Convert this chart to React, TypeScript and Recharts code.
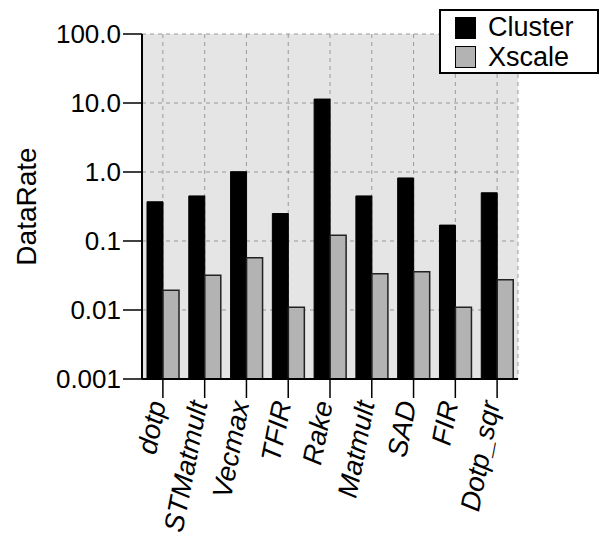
import React from 'react';
import { BarChart, Bar, XAxis, YAxis, CartesianGrid, Legend } from 'recharts';

const categories = ['dotp', 'STMatmult', 'Vecmax', 'TFIR', 'Rake', 'Matmult', 'SAD', 'FIR', 'Dotp_sqr'];
const clusterValues = [0.37, 0.45, 1.01, 0.25, 11.4, 0.45, 0.82, 0.17, 0.5];
const xscaleValues = [0.0193, 0.0318, 0.0573, 0.011, 0.121, 0.0336, 0.0359, 0.011, 0.0275];
const yTicks = [0.001, 0.01, 0.1, 1, 10, 100];
const yTickLabels = ['0.001', '0.01', '0.1', '1.0', '10.0', '100.0'];

const data = categories.map((name, i) => ({
  name,
  Cluster: clusterValues[i],
  Xscale: xscaleValues[i],
}));

const FONT = '"Liberation Sans", Arial, Helvetica, sans-serif';

const XTick = (props: any) => {
  const { x, y, payload } = props;
  return (
    <g transform={`translate(${x + 3},${y + 3})`}>
      <text
        transform="rotate(-79)"
        textAnchor="end"
        fontFamily={FONT}
        fontSize={27.5}
        fontStyle="italic"
        fill="#000"
      >
        {payload.value}
      </text>
    </g>
  );
};

const LegendContent = () => (
  <div
    style={{
      position: 'relative',
      width: 160,
      height: 65,
      border: '2px solid #000',
      boxSizing: 'border-box',
      background: '#fff',
      fontFamily: FONT,
      fontSize: 27,
      lineHeight: '27px',
      color: '#000',
    }}
  >
    <div style={{ position: 'absolute', left: 14, top: 6, width: 21, height: 22, background: '#000', border: '1px solid #000', boxSizing: 'border-box' }} />
    <div style={{ position: 'absolute', left: 14, top: 35, width: 21, height: 22, background: '#b3b3b3', border: '1.5px solid #000', boxSizing: 'border-box' }} />
    <div style={{ position: 'absolute', left: 47, top: 3, whiteSpace: 'nowrap' }}>Cluster</div>
    <div style={{ position: 'absolute', left: 47, top: 33, whiteSpace: 'nowrap' }}>Xscale</div>
  </div>
);

export default function App() {
  return (
    <div style={{ position: 'absolute', left: 0, top: 0, width: 600, height: 537, background: '#fff' }}>
      <BarChart
        width={600}
        height={537}
        data={data}
        margin={{ top: 34, right: 82, bottom: 0, left: 0 }}
        barCategoryGap="12%"
        barGap={0}
      >
        <CartesianGrid
          yAxisId="left"
          stroke="#999"
          strokeDasharray="4 4"
          fill="#e5e5e5"
          fillOpacity={1}
        />
        <XAxis
          dataKey="name"
          height={158}
          interval={0}
          tickSize={19}
          tickLine={{ stroke: '#000', strokeWidth: 1.5 }}
          axisLine={{ stroke: '#000', strokeWidth: 2 }}
          tick={<XTick />}
        />
        <YAxis
          yAxisId="left"
          scale="log"
          domain={[0.001, 100]}
          allowDataOverflow
          ticks={yTicks}
          width={142}
          tickSize={19}
          tickLine={{ stroke: '#000', strokeWidth: 1.5 }}
          axisLine={{ stroke: '#000', strokeWidth: 2 }}
          tickFormatter={(v: number) => yTickLabels[yTicks.indexOf(v)] ?? String(v)}
          tick={{ fill: '#000', fontSize: 26, fontFamily: FONT }}
          label={{
            value: 'DataRate',
            angle: -90,
            position: 'insideLeft',
            offset: 26,
            style: { textAnchor: 'middle', fill: '#000', fontSize: 28, fontFamily: FONT },
          }}
        />
        <YAxis
          yAxisId="right"
          orientation="right"
          scale="log"
          domain={[0.001, 100]}
          allowDataOverflow
          width={0}
          tick={false}
          tickLine={false}
          axisLine={{ stroke: '#222', strokeWidth: 1.5 }}
        />
        <Legend
          layout="horizontal"
          verticalAlign="middle"
          align="center"
          content={<LegendContent />}
          wrapperStyle={{ position: 'absolute', left: 439, top: 9, width: 160, height: 65, bottom: 'auto', right: 'auto' }}
        />
        <Bar yAxisId="left" dataKey="Cluster" fill="#000" stroke="#000" strokeWidth={1} isAnimationActive={false} />
        <Bar yAxisId="left" dataKey="Xscale" fill="#b3b3b3" stroke="#222" strokeWidth={1.5} isAnimationActive={false} />
      </BarChart>
    </div>
  );
}
